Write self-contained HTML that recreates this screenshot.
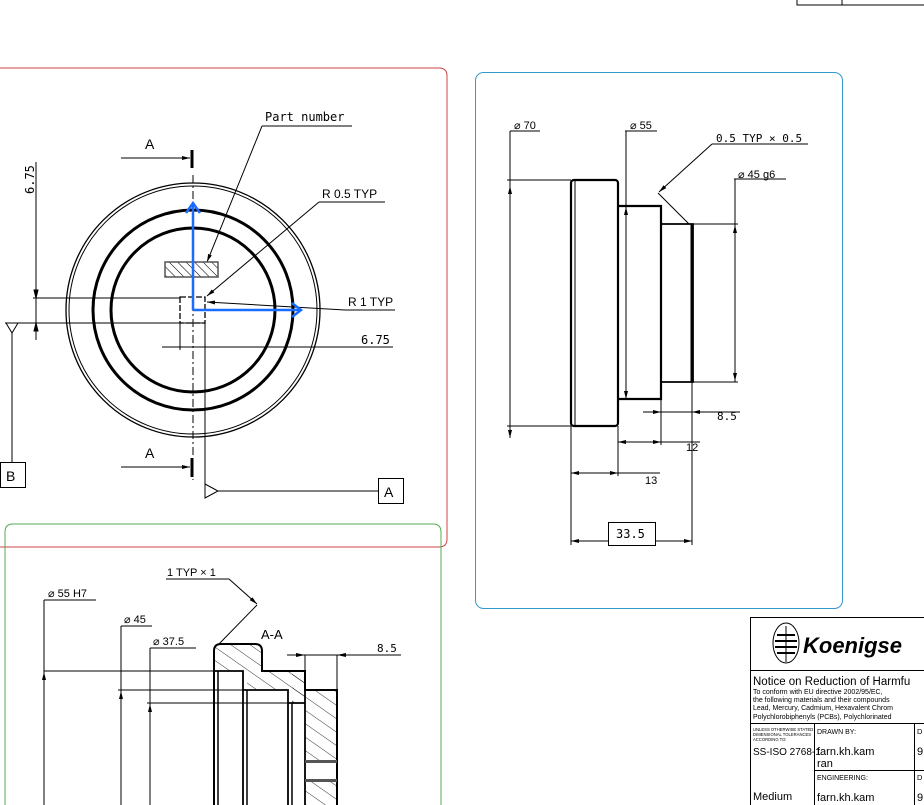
<!DOCTYPE html>
<html><head><meta charset="utf-8"><style>
html,body{margin:0;padding:0;background:#fff;width:924px;height:805px;overflow:hidden}
text{font-family:"Liberation Sans",sans-serif;fill:#000}
.m{font-family:"DejaVu Sans Mono","Liberation Mono",monospace}
</style></head><body>
<svg width="924" height="805" viewBox="0 0 924 805" xmlns="http://www.w3.org/2000/svg">
<defs>
<pattern id="h" width="6" height="6" patternUnits="userSpaceOnUse" patternTransform="rotate(-45)">
<line x1="0" y1="0" x2="0" y2="6" stroke="#000" stroke-width="1"/></pattern>
<pattern id="h2" width="11" height="11" patternUnits="userSpaceOnUse" patternTransform="rotate(-55)">
<line x1="0" y1="0" x2="0" y2="11" stroke="#000" stroke-width="0.8"/></pattern>
<marker id="a" markerWidth="8" markerHeight="6" refX="8" refY="3" orient="auto"><path d="M0,1 L8,3 L0,5z" fill="#000"/></marker>
</defs>
<g stroke="#000" fill="none" stroke-width="1">
<path d="M797,0 V5 H924"/><line x1="842" y1="0" x2="842" y2="5"/></g>
<path d="M0,68 H439 Q447,68 447,76 V539 Q447,547 439,547 H0" fill="none" stroke="#c44" stroke-width="1"/>
<path d="M5,805 V532 Q5,524 13,524 H433 Q441,524 441,532 V805" fill="none" stroke="#5a5" stroke-width="1"/>
<rect x="475.5" y="72.5" width="367" height="536" rx="8" fill="none" stroke="#39c" stroke-width="1"/>

<g fill="none" stroke="#000">
<circle cx="193" cy="310" r="127" stroke-width="1.3"/>
<circle cx="193" cy="310" r="124" stroke-width="1"/>
<circle cx="193" cy="310" r="100" stroke-width="3"/>
<circle cx="193" cy="310" r="82" stroke-width="3"/>
<line x1="193" y1="175" x2="193" y2="480" stroke-width="1" stroke-dasharray="8,3,2,3"/>
<line x1="121" y1="158" x2="190" y2="158" marker-end="url(#a)"/>
<line x1="192" y1="150" x2="192" y2="168" stroke-width="3"/>
<line x1="121" y1="467" x2="190" y2="467" marker-end="url(#a)"/>
<line x1="192" y1="458" x2="192" y2="477" stroke-width="3"/>
<rect x="180" y="297" width="25" height="26" stroke-width="1.3" stroke-dasharray="6,2"/>
<line x1="33" y1="298" x2="180" y2="298"/>
<line x1="5" y1="323" x2="205" y2="323"/>
<path d="M6,323 L18,323 L12,333z"/>
<line x1="12" y1="333" x2="12" y2="462"/>
<rect x="0.5" y="462.5" width="25" height="25"/>
<line x1="36" y1="162" x2="36" y2="340"/>
<path d="M36,298 l-2,-8 h4z M36,323 l-2,8 h4z" fill="#000"/>
<line x1="262" y1="126" x2="352" y2="126"/><line x1="262" y1="126" x2="207" y2="262" marker-end="url(#a)"/>
<line x1="319" y1="202" x2="385" y2="202"/><line x1="319" y1="202" x2="207" y2="296" marker-end="url(#a)"/>
<line x1="345" y1="310" x2="395" y2="310"/><line x1="345" y1="310" x2="207" y2="302" marker-end="url(#a)"/>
<line x1="162" y1="347" x2="393" y2="347"/>
<line x1="180" y1="323" x2="180" y2="350"/>
<line x1="205" y1="323" x2="205" y2="495"/>
<path d="M205,484 L218,491 L205,498z"/>
<line x1="218" y1="491" x2="378" y2="491"/>
<rect x="378.5" y="478.5" width="25" height="25"/>
</g>
<rect x="165" y="262" width="53" height="15" fill="url(#h)" stroke="#555" stroke-width="1.5"/>
<g stroke="#1a6cff" stroke-width="2.5" fill="none">
<line x1="193" y1="310" x2="193" y2="205"/><path d="M186,213 L193,203 L200,213"/>
<line x1="193" y1="310" x2="300" y2="310"/><path d="M292,303 L301,310 L292,317"/>
</g>
<text x="145" y="149" font-size="14">A</text>
<text x="145" y="458" font-size="14">A</text>
<text x="6" y="481" font-size="14">B</text>
<text x="384" y="497" font-size="14">A</text>
<text class="m" x="265" y="121" font-size="12">Part number</text>
<text x="322" y="198" font-size="12">R 0.5 TYP</text>
<text x="348" y="306" font-size="12">R 1 TYP</text>
<text class="m" x="361" y="344" font-size="12">6.75</text>
<text class="m" x="0" y="0" font-size="12" transform="translate(34,194) rotate(-90)">6.75</text>

<g fill="none" stroke="#000">
<rect x="571" y="180" width="47" height="246" rx="3" stroke-width="2.2"/>
<line x1="575" y1="181" x2="575" y2="425"/>
<path d="M618,206 H661 V399 H618" stroke-width="2.2"/>
<path d="M661,224 H693 V382 H661" stroke-width="1.8"/><line x1="692" y1="224" x2="692" y2="382" stroke-width="3"/>
<line x1="510" y1="131" x2="540" y2="131"/><line x1="510" y1="131" x2="510" y2="438"/>
<line x1="507" y1="180" x2="571" y2="180"/><line x1="507" y1="426" x2="571" y2="426"/>
<line x1="625" y1="131" x2="657" y2="131"/><line x1="626" y1="131" x2="626" y2="400"/>
<line x1="712" y1="144" x2="808" y2="144"/><line x1="712" y1="144" x2="659" y2="192" marker-end="url(#a)"/>
<line x1="658" y1="193" x2="689" y2="224"/>
<line x1="734" y1="179" x2="786" y2="179"/><line x1="735" y1="179" x2="735" y2="382"/>
<line x1="693" y1="224" x2="738" y2="224"/><line x1="693" y1="382" x2="738" y2="382"/>
<line x1="643" y1="412" x2="740" y2="412"/>
<line x1="661" y1="399" x2="661" y2="445"/><line x1="692" y1="382" x2="692" y2="545"/>
<line x1="618" y1="442" x2="700" y2="442"/>
<line x1="618" y1="426" x2="618" y2="476"/><line x1="571" y1="426" x2="571" y2="545"/>
<line x1="571" y1="473" x2="660" y2="473"/>
<line x1="571" y1="541" x2="692" y2="541"/>
<rect x="608.5" y="522.5" width="47" height="23" fill="#fff"/>
</g>
<g fill="#000">
<path d="M510,186 l-2,8 h4z M510,438 l-2,-8 h4z M626,207 l-2,8 h4z M626,399 l-2,-8 h4z M735,225 l-2,8 h4z M735,381 l-2,-8 h4z"/>
<path d="M661,412 l-8,-2 v4z M692,412 l8,-2 v4z M618,442 l8,-2 v4z M661,442 l-8,-2 v4z M571,473 l8,-2 v4z M618,473 l-8,-2 v4z M571,541 l8,-2 v4z M692,541 l-8,-2 v4z"/>
</g>
<text x="514" y="129" font-size="11">⌀ 70</text>
<text x="630" y="129" font-size="11">⌀ 55</text>
<text class="m" x="716" y="142" font-size="11">0.5 TYP × 0.5</text>
<text x="738" y="178" font-size="11">⌀ 45 g6</text>
<text class="m" x="717" y="420" font-size="11">8.5</text>
<text x="686" y="451" font-size="11">12</text>
<text x="645" y="484" font-size="11">13</text>
<text class="m" x="616" y="538" font-size="12">33.5</text>

<path d="M214,671 V651 Q214,644 221,644 H255 Q262,644 262,651 V671 H305 V690 H337 V805 H305 V703 H292 V690 H247 V671 Z" fill="url(#h2)" stroke="none"/>
<rect x="292" y="671" width="13" height="32" fill="url(#h2)"/>
<g fill="none" stroke="#000">
<path d="M214,805 V651 Q214,644 221,644 H255 Q262,644 262,651 V671 H305 V690 H337 V805" stroke-width="2"/>
<path d="M214,671 H243 V690 H288 V703 H305 M243,690 V805 M288,703 V805 M305,690 V805" stroke-width="1.8"/>
<line x1="218" y1="671" x2="218" y2="805" stroke-width="1.5"/>
<line x1="247" y1="690" x2="247" y2="805" stroke-width="1.5"/>
<line x1="292" y1="703" x2="292" y2="805" stroke-width="1.5"/>
<line x1="166" y1="579" x2="229" y2="579"/><line x1="229" y1="579" x2="257" y2="604" marker-end="url(#a)"/>
<line x1="257" y1="605" x2="218" y2="645"/>
<line x1="44" y1="600" x2="96" y2="600"/><line x1="44" y1="600" x2="44" y2="805"/>
<line x1="121" y1="626" x2="152" y2="626"/><line x1="121" y1="626" x2="121" y2="805"/>
<line x1="150" y1="648" x2="196" y2="648"/><line x1="150" y1="648" x2="150" y2="805"/>
<line x1="44" y1="671" x2="214" y2="671"/>
<line x1="118" y1="690" x2="245" y2="690"/>
<line x1="147" y1="703" x2="290" y2="703"/>
<line x1="287" y1="655" x2="401" y2="655"/>
<line x1="305" y1="655" x2="305" y2="690"/><line x1="337" y1="655" x2="337" y2="690"/>
</g>
<rect x="305" y="760" width="32" height="3" fill="#555"/><rect x="305" y="779" width="32" height="3" fill="#555"/>
<rect x="306" y="763" width="30" height="16" fill="#fff"/>
<g fill="#000"><path d="M44,672 l-2,8 h4z M121,691 l-2,8 h4z M150,704 l-2,8 h4z M305,655 l-9,-2 v4z M337,655 l9,-2 v4z"/></g>
<text x="167" y="576" font-size="11">1 TYP × 1</text>
<text x="48" y="597" font-size="11">⌀ 55 H7</text>
<text x="124" y="623" font-size="11">⌀ 45</text>
<text x="153" y="645" font-size="11">⌀ 37.5</text>
<text x="261" y="639" font-size="13">A-A</text>
<text class="m" x="377" y="652" font-size="11">8.5</text>

<g fill="none" stroke="#000" stroke-width="1">
<path d="M750.5,805 V617.5 H924"/>
<line x1="750" y1="670.5" x2="924" y2="670.5"/>
<line x1="750" y1="723.5" x2="924" y2="723.5"/>
<line x1="814.5" y1="723" x2="814.5" y2="805"/>
<line x1="914.5" y1="723" x2="914.5" y2="805"/>
<line x1="814" y1="770.5" x2="924" y2="770.5"/>
<ellipse cx="786" cy="643" rx="13" ry="20"/>
<line x1="786" y1="626" x2="786" y2="662"/>
<path d="M777,635 h18 M775,641 h22 M775,647 h22 M777,653 h18" stroke-width="2"/>
</g>
<text x="803" y="653" font-size="22" font-weight="bold" font-style="italic">Koenigse</text>
<text x="753" y="685" font-size="11.5">Notice on Reduction of Harmfu</text>
<text x="753" y="694" font-size="7">To conform with EU directive 2002/95/EC,</text>
<text x="753" y="702" font-size="7">the following materials and their compounds</text>
<text x="753" y="710" font-size="7">Lead, Mercury, Cadmium, Hexavalent Chrom</text>
<text x="753" y="719" font-size="7">Polychlorobiphenyls (PCBs), Polychlorinated</text>
<text x="753" y="731" font-size="4.2">UNLESS OTHERWISE STATED</text>
<text x="753" y="736" font-size="4.2">DIMENSIONAL TOLERANCES</text>
<text x="753" y="741" font-size="4.2">ACCORDING TO:</text>
<text x="753" y="755" font-size="10">SS-ISO 2768-1</text>
<text x="753" y="800" font-size="11">Medium</text>
<text x="817" y="734" font-size="7">DRAWN BY:</text>
<text x="817" y="755" font-size="11">farn.kh.kam</text>
<text x="817" y="767" font-size="11">ran</text>
<text x="817" y="780" font-size="7">ENGINEERING:</text>
<text x="817" y="801" font-size="11">farn.kh.kam</text>
<text x="917" y="734" font-size="7.5">D</text>
<text x="917" y="755" font-size="11">9</text>
<text x="917" y="780" font-size="7.5">D</text>
<text x="917" y="801" font-size="11">9</text>
</svg>
</body></html>
